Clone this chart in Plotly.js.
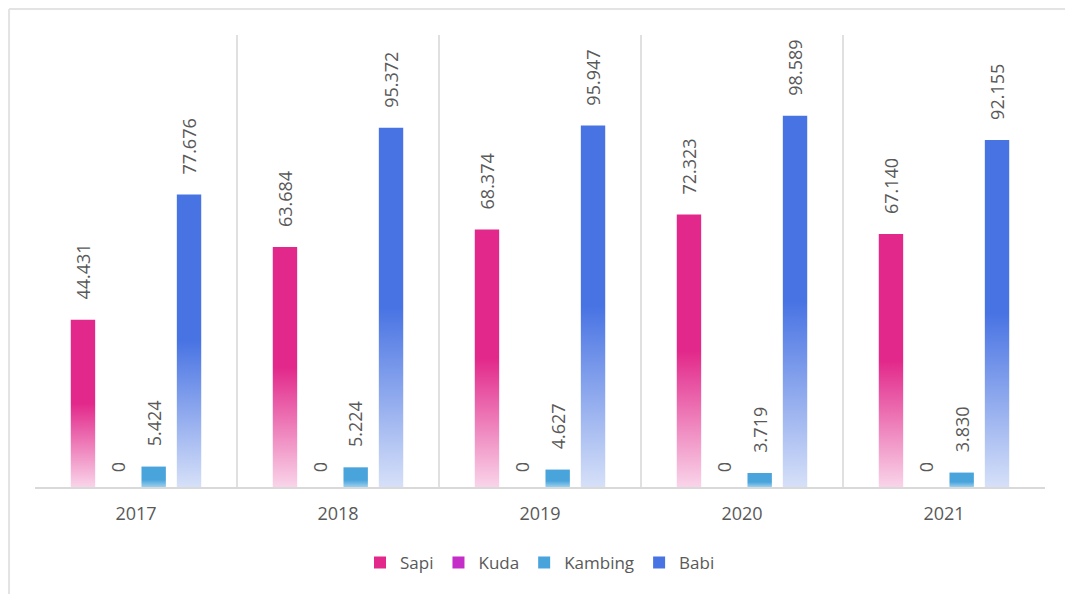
<!DOCTYPE html>
<html>
<head>
<meta charset="utf-8">
<script src="https://cdn.plot.ly/plotly-3.0.1.min.js"></script>
<style>
  html, body { margin: 0; padding: 0; background: #ffffff; }
  #chart { width: 1065px; height: 594px; }
</style>
</head>
<body>
<div id="chart"></div>
<script>
// ---- data ----
var years = ['2017', '2018', '2019', '2020', '2021'];
var sapi = [44.431, 63.684, 68.374, 72.323, 67.140];
var kuda = [0, 0, 0, 0, 0];
var kambing = [5.424, 5.224, 4.627, 3.719, 3.830];
var babi = [77.676, 95.372, 95.947, 98.589, 92.155];
var seriesNames = ['Sapi', 'Kuda', 'Kambing', 'Babi'];

// ---- styles ----
var seriesValues = [sapi, kuda, kambing, babi];
var solidColors = ['#E2288A', '#C52DC8', '#4AA4DC', '#4873E3'];
var lightColors = ['#F9D4E9', '#EBC0EC', '#9ACFEE', '#D6E0F8'];
var fadeStart = [0.5, 0.5, 0.65, 0.5];
var textColor = '#595959';
var gridColor = '#E0E0E0';
var fontFamily = '"Open Sans", "Noto Sans", sans-serif';
var bargap = 0.3;

function fmt(v) { return v === 0 ? '0' : v.toFixed(3); }

var traces = seriesNames.map(function (name, k) {
  return {
    type: 'bar',
    name: name,
    x: years,
    y: seriesValues[k],
    marker: { color: solidColors[k], line: { width: 0 } },
    hoverinfo: 'x+y+name'
  };
});

// value labels as rotated annotations positioned from the data
var nS = seriesNames.length;
var slot = (1 - bargap) / nS;
var annotations = [];
seriesValues.forEach(function (vals, k) {
  var off = (k - (nS - 1) / 2) * slot;
  vals.forEach(function (v, i) {
    annotations.push({
      x: i + off,
      y: v,
      xref: 'x',
      yref: 'y',
      text: fmt(v),
      showarrow: false,
      textangle: -90,
      xanchor: 'center',
      yanchor: 'bottom',
      yshift: v === 0 ? 13 : 18,
      font: { family: fontFamily, size: 18, color: textColor }
    });
  });
});

var layout = {
  width: 1065,
  height: 594,
  margin: { l: 35, r: 20, t: 35, b: 107 },
  paper_bgcolor: '#ffffff',
  plot_bgcolor: '#ffffff',
  barmode: 'group',
  bargap: bargap,
  bargroupgap: 0.31,
  showlegend: true,
  legend: {
    orientation: 'h',
    x: 0.5,
    xanchor: 'center',
    y: -0.168,
    yanchor: 'middle',
    font: { family: fontFamily, size: 17, color: textColor },
    itemwidth: 30,
    traceorder: 'normal'
  },
  xaxis: {
    type: 'category',
    tickson: 'boundaries',
    showgrid: true,
    gridcolor: gridColor,
    gridwidth: 1.5,
    showline: true,
    linecolor: '#D9D9D9',
    linewidth: 2,
    ticks: '',
    ticklabelstandoff: 9,
    tickfont: { family: fontFamily, size: 18, color: textColor },
    fixedrange: true
  },
  yaxis: {
    range: [0, 120],
    visible: false,
    showgrid: false,
    zeroline: false,
    fixedrange: true
  },
  annotations: annotations,
  shapes: [
    { type: 'line', xref: 'paper', yref: 'paper', x0: -0.0257, x1: -0.0257, y0: 1.0575, y1: -0.3, line: { color: '#E3E3E3', width: 2 } },
    { type: 'line', xref: 'paper', yref: 'paper', x0: -0.0257, x1: 1.05, y0: 1.0575, y1: 1.0575, line: { color: '#E3E3E3', width: 2 } }
  ],
  font: { family: fontFamily, color: textColor }
};

Plotly.newPlot('chart', traces, layout, { staticPlot: true, displayModeBar: false }).then(function (gd) {
  var svg = gd.querySelector('svg.main-svg');
  var ns = 'http://www.w3.org/2000/svg';
  var defs = document.createElementNS(ns, 'defs');
  seriesNames.forEach(function (name, k) {
    var g = document.createElementNS(ns, 'linearGradient');
    g.setAttribute('id', 'barGrad' + k);
    g.setAttribute('x1', '0'); g.setAttribute('y1', '0');
    g.setAttribute('x2', '0'); g.setAttribute('y2', '1');
    [[0, solidColors[k]], [fadeStart[k], solidColors[k]], [1, lightColors[k]]].forEach(function (s) {
      var st = document.createElementNS(ns, 'stop');
      st.setAttribute('offset', s[0]);
      st.setAttribute('stop-color', s[1]);
      g.appendChild(st);
    });
    defs.appendChild(g);
  });
  svg.insertBefore(defs, svg.firstChild);
  var groups = gd.querySelectorAll('.barlayer .trace.bars');
  groups.forEach(function (grp, k) {
    grp.querySelectorAll('.point path').forEach(function (p) {
      p.style.fill = 'url(#barGrad' + k + ')';
    });
  });
});
</script>
</body>
</html>
